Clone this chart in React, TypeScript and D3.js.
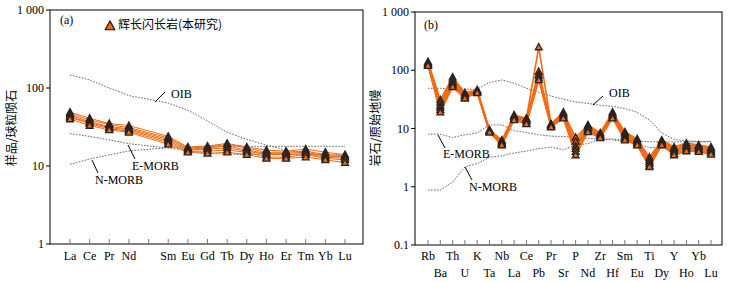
import React from "react";
import * as d3 from "d3";

// REE (chondrite normalised) — Pm is a blank slot on the axis
const reeAxis = ["La", "Ce", "Pr", "Nd", "Pm", "Sm", "Eu", "Gd", "Tb", "Dy", "Ho", "Er", "Tm", "Yb", "Lu"];
const ree = ["La", "Ce", "Pr", "Nd", "Sm", "Eu", "Gd", "Tb", "Dy", "Ho", "Er", "Tm", "Yb", "Lu"];

const reeSamples: number[][] = [
  [49, 41, 35, 33, 24, 17.5, 18, 19.5, 17.5, 16, 15.5, 16.5, 15, 14],
  [47, 39, 34, 31, 23, 17, 17.5, 19, 17, 15, 15, 15.5, 14, 13.5],
  [45, 37, 32, 30, 22, 16.5, 17, 18, 16, 14.5, 14.5, 15, 13.5, 13],
  [43, 36, 31, 29, 21, 16, 16.5, 17, 15.5, 14, 14, 14.5, 13, 12.5],
  [42, 35, 30, 28, 20, 15.5, 15.5, 16, 15, 13, 13, 14, 12.5, 12],
  [40, 33, 29, 27, 19, 15, 14.5, 15, 14, 12.5, 12.5, 13, 12, 11],
];
const reeOIB = [147, 127, 100, 80, 64, 52, 38, 27, 22, 18.5, 16, 14.5, 13.5, 13];
const reeEMORB = [26, 24, 21.6, 19.3, 17, 15.7, 14.5, 14.2, 14, 14, 14, 14, 13.9, 13.9];
const reeNMORB = [10.5, 12.3, 13.9, 15.6, 17.2, 17.6, 17.9, 17.9, 17.9, 17.8, 17.9, 17.9, 17.9, 17.9];

// trace elements (primitive mantle normalised)
const trace = ["Rb", "Ba", "Th", "U", "K", "Ta", "Nb", "La", "Ce", "Pb", "Pr", "Sr", "P", "Nd", "Zr", "Hf", "Sm", "Eu", "Ti", "Dy", "Y", "Ho", "Yb", "Lu"];

const traceSamples: number[][] = [
  [140, 31, 76, 41, 46, 9.5, 6.3, 17, 15, 250, 12, 19, 7, 11.5, 8.4, 19, 8.7, 6.6, 3.2, 6.3, 4.8, 5.6, 5.2, 4.8],
  [135, 28, 70, 39, 45, 9.2, 6.0, 16.5, 14.5, 95, 11.7, 18, 6, 11, 8, 18, 8.2, 6.3, 2.9, 6.0, 4.5, 5.2, 5.0, 4.6],
  [130, 25, 64, 37, 44, 9.0, 5.8, 16, 14, 85, 11.4, 17, 5, 10.5, 7.7, 17, 7.6, 6.0, 2.7, 5.8, 4.2, 4.9, 4.7, 4.3],
  [127, 23, 60, 36, 43, 8.9, 5.6, 15, 13.5, 80, 11.1, 16.5, 4.5, 10, 7.4, 16.5, 7.1, 5.7, 2.5, 5.6, 4.0, 4.6, 4.4, 4.1],
  [124, 21, 56, 34, 42, 8.8, 5.4, 14.5, 12.5, 73, 10.8, 15.5, 4, 9.3, 7.1, 15.5, 6.7, 5.4, 2.3, 5.4, 3.7, 4.3, 4.2, 3.8],
  [120, 19, 52, 33, 41, 8.6, 5.2, 14, 12, 68, 10.6, 15, 3.5, 8.7, 6.9, 15, 6.3, 5.2, 2.2, 5.2, 3.5, 4.1, 4.0, 3.6],
];
const traceOIB = [49, 49, 48, 47, 47, 62, 68, 60, 49, 42, 36, 32, 28.5, 27, 25, 24, 22, 19, 14, 8.4, 6.5, 6.1, 6, 6];
const traceEMORB = [8, 8, 7, 7.8, 8.4, 11.5, 11.5, 9.2, 8.5, 7.8, 7.4, 7.3, 7, 6.8, 6.6, 6.4, 5.9, 5.5, 4.7, 4.8, 4.8, 4.8, 4.8, 4.8];
const traceNMORB = [0.88, 0.88, 1.2, 2.2, 2.5, 3.2, 3.4, 3.8, 4.1, 4.5, 4.8, 4.3, 5.2, 5.5, 6.6, 6.6, 6.2, 6.1, 5.9, 5.9, 5.9, 5.9, 5.9, 5.9];

const leftTicks = [1, 10, 100, 1000];
const rightTicks = [0.1, 1, 10, 100, 1000];
const tickLabel = (v: number) => (v === 1000 ? "1 000" : String(v));

const ORANGE = "#f26b12";
const GREY = "#666";
const SERIF = "Liberation Serif, Times New Roman, DejaVu Serif, serif";
const CJK = "Noto Sans CJK SC, sans-serif";

const tri = (cx: number, cy: number, s = 3.6) =>
  `M${cx},${cy - s}L${cx + s * 0.95},${cy + s * 0.75}L${cx - s * 0.95},${cy + s * 0.75}Z`;

const App: React.FC = () => {
  // panel (a)
  const ax = d3.scalePoint<string>().domain(reeAxis).range([70, 345]);
  const ay = d3.scaleLog().domain([1, 1000]).range([244, 10]);
  // panel (b)
  const bx = d3.scalePoint<string>().domain(trace).range([428, 711]);
  const by = d3.scaleLog().domain([0.1, 1000]).range([245, 12]);

  const lineA = d3
    .line<number>()
    .x((_, i) => ax(ree[i])!)
    .y(d => ay(d));
  const lineB = d3
    .line<number>()
    .x((_, i) => bx(trace[i])!)
    .y(d => by(d));

  const dotted = { fill: "none", stroke: GREY, strokeWidth: 1, strokeDasharray: "1.6,1.4" };
  const serif = { fontFamily: SERIF };
  const cjk = { fontFamily: CJK };

  return (
    <svg
      width={729}
      height={282}
      style={{ position: "absolute", left: 0, top: 0, background: "#fff", fontFamily: SERIF }}
    >
      {/* ---------- panel (a) ---------- */}
      <rect x={50} y={10} width={313} height={234} fill="none" stroke="#000" strokeWidth={1} />
      {leftTicks.map(t => (
        <g key={"ay" + t}>
          <line x1={46} x2={50} y1={ay(t)} y2={ay(t)} stroke="#000" />
          <text x={44} y={ay(t)} dy="0.35em" textAnchor="end" fontSize={12} style={serif}>
            {tickLabel(t)}
          </text>
        </g>
      ))}
      {reeAxis.map(c => (
        <g key={"ax" + c}>
          <line x1={ax(c)} x2={ax(c)} y1={244} y2={239} stroke="#777" />
          {c !== "Pm" && (
            <text x={ax(c)} y={260} textAnchor="middle" fontSize={12} style={serif}>
              {c}
            </text>
          )}
        </g>
      ))}
      <text transform="translate(16,128) rotate(-90)" textAnchor="middle" fontSize={12} style={cjk}>
        样品/球粒陨石
      </text>

      <path d={lineA(reeOIB)!} {...dotted} />
      <path d={lineA(reeEMORB)!} {...dotted} />
      <path d={lineA(reeNMORB)!} {...dotted} />

      {reeSamples.map((s, i) => (
        <path key={"al" + i} d={lineA(s)!} fill="none" stroke={ORANGE} strokeWidth={1} />
      ))}
      {reeSamples.map((s, i) =>
        s.map((v, j) => (
          <path
            key={`am${i}-${j}`}
            d={tri(ax(ree[j])!, ay(v))}
            fill={ORANGE}
            stroke="#2a2222"
            strokeWidth={1.3}
          />
        ))
      )}

      <line x1={155} y1={102} x2={165} y2={92} stroke="#000" />
      <text x={171} y={94} fontSize={12} dy="0.35em" style={serif}>OIB</text>
      <line x1={128} y1={145} x2={135} y2={159} stroke="#000" />
      <text x={132} y={166} fontSize={12} dy="0.35em" style={serif}>E-MORB</text>
      <line x1={92} y1={160} x2={98} y2={173} stroke="#000" />
      <text x={95} y={180} fontSize={12} dy="0.35em" style={serif}>N-MORB</text>

      <text x={60} y={20} fontSize={12} dy="0.35em" style={serif}>(a)</text>
      <path d={tri(110, 26, 5)} fill={ORANGE} stroke="#111" strokeWidth={1.2} />
      <text x={118} y={25} fontSize={12} dy="0.35em" style={cjk}>
        辉长闪长岩(本研究)
      </text>

      {/* ---------- panel (b) ---------- */}
      <rect x={415} y={12} width={307} height={233} fill="none" stroke="#000" strokeWidth={1} />
      {rightTicks.map(t => (
        <g key={"by" + t}>
          <line x1={411} x2={415} y1={by(t)} y2={by(t)} stroke="#000" />
          <text x={409} y={by(t)} dy="0.35em" textAnchor="end" fontSize={12} style={serif}>
            {tickLabel(t)}
          </text>
        </g>
      ))}
      {trace.map((c, i) => (
        <g key={"bx" + c}>
          <line x1={bx(c)} x2={bx(c)} y1={245} y2={240} stroke="#777" />
          <text x={bx(c)} y={i % 2 === 0 ? 260 : 277} textAnchor="middle" fontSize={12} style={serif}>
            {c}
          </text>
        </g>
      ))}
      <text transform="translate(380,128) rotate(-90)" textAnchor="middle" fontSize={12} style={cjk}>
        岩石/原始地幔
      </text>

      <path d={lineB(traceOIB)!} {...dotted} />
      <path d={lineB(traceEMORB)!} {...dotted} />
      <path d={lineB(traceNMORB)!} {...dotted} />

      {traceSamples.map((s, i) => (
        <path key={"bl" + i} d={lineB(s)!} fill="none" stroke={ORANGE} strokeWidth={1.6} />
      ))}
      {traceSamples.map((s, i) =>
        s.map((v, j) => (
          <path
            key={`bm${i}-${j}`}
            d={tri(bx(trace[j])!, by(v))}
            fill={ORANGE}
            stroke="#2a2222"
            strokeWidth={1.3}
          />
        ))
      )}

      <line x1={593} y1={105} x2={603} y2={96} stroke="#000" />
      <text x={609} y={93} fontSize={12} dy="0.35em" style={serif}>OIB</text>
      <line x1={438} y1={135} x2={445} y2={148} stroke="#000" />
      <text x={443} y={154} fontSize={12} dy="0.35em" style={serif}>E-MORB</text>
      <line x1={465} y1={167} x2={472} y2={180} stroke="#000" />
      <text x={469} y={187} fontSize={12} dy="0.35em" style={serif}>N-MORB</text>

      <text x={424} y={25} fontSize={12} dy="0.35em" style={serif}>(b)</text>
    </svg>
  );
};

export default App;
